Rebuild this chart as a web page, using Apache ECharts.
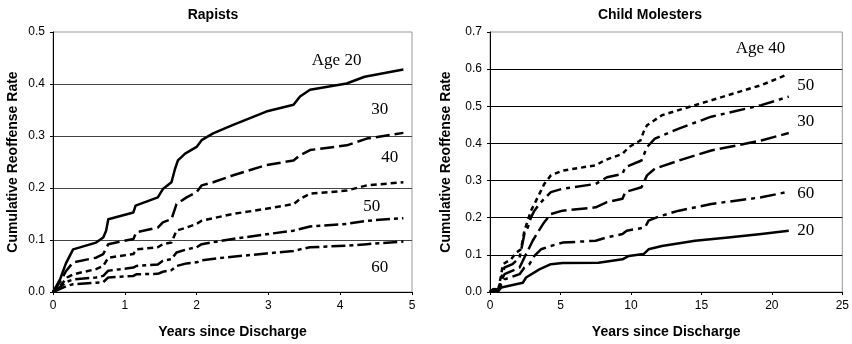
<!DOCTYPE html>
<html><head><meta charset="utf-8">
<script src="https://cdn.jsdelivr.net/npm/echarts@6/dist/echarts.min.js"></script>
<style>html,body{margin:0;padding:0;background:#fff}#c{width:852px;height:344px}</style>
</head><body><div id="c"></div>
<script>
// ---------- Data: Rapists (years, cumulative rate) ----------
const rapAge20 = [[0,0],[0.1,0.025],[0.18,0.055],[0.28,0.082],[0.6,0.095],[0.7,0.105],[0.74,0.118],[0.77,0.14],[1.12,0.153],[1.15,0.166],[1.46,0.182],[1.53,0.198],[1.65,0.211],[1.7,0.237],[1.74,0.253],[1.84,0.266],[2.0,0.279],[2.07,0.292],[2.23,0.305],[2.5,0.321],[2.97,0.347],[3.35,0.36],[3.44,0.376],[3.58,0.389],[4.09,0.401],[4.34,0.414],[4.88,0.428]];
const rapAge30 = [[0,0],[0.1,0.02],[0.18,0.04],[0.28,0.057],[0.6,0.066],[0.7,0.073],[0.77,0.092],[1.12,0.102],[1.16,0.115],[1.46,0.124],[1.53,0.134],[1.65,0.14],[1.72,0.169],[1.86,0.182],[2.0,0.192],[2.07,0.205],[2.23,0.211],[2.5,0.224],[2.97,0.244],[3.35,0.253],[3.44,0.263],[3.58,0.273],[4.09,0.282],[4.37,0.295],[4.88,0.306]];
const rapAge40 = [[0,0],[0.1,0.012],[0.2,0.028],[0.28,0.034],[0.6,0.044],[0.7,0.05],[0.77,0.066],[1.12,0.073],[1.16,0.082],[1.46,0.086],[1.53,0.092],[1.65,0.095],[1.72,0.118],[1.86,0.124],[2.0,0.131],[2.07,0.137],[2.5,0.15],[2.97,0.16],[3.35,0.169],[3.44,0.179],[3.58,0.189],[4.09,0.195],[4.37,0.205],[4.88,0.211]];
const rapAge50 = [[0,0],[0.1,0.01],[0.2,0.02],[0.28,0.024],[0.6,0.028],[0.7,0.031],[0.77,0.041],[1.12,0.047],[1.16,0.05],[1.46,0.053],[1.53,0.06],[1.65,0.063],[1.72,0.076],[1.86,0.082],[2.0,0.086],[2.07,0.092],[2.5,0.102],[2.97,0.111],[3.35,0.118],[3.44,0.121],[3.58,0.126],[4.09,0.131],[4.37,0.137],[4.88,0.142]];
const rapAge60 = [[0,0],[0.1,0.006],[0.2,0.012],[0.28,0.015],[0.6,0.018],[0.7,0.019],[0.77,0.028],[1.12,0.031],[1.16,0.034],[1.46,0.035],[1.53,0.039],[1.65,0.042],[1.72,0.05],[1.86,0.055],[2.0,0.057],[2.07,0.061],[2.5,0.068],[2.97,0.074],[3.35,0.079],[3.44,0.082],[3.58,0.086],[4.09,0.089],[4.37,0.092],[4.88,0.097]];

// ---------- Data: Child Molesters ----------
const cmAge40 = [[0,0],[0.3,0.01],[0.6,0.008],[0.8,0.048],[0.92,0.075],[1.5,0.088],[1.86,0.106],[2.2,0.115],[2.44,0.165],[2.68,0.192],[2.91,0.219],[3.27,0.246],[3.62,0.273],[3.85,0.291],[4.32,0.314],[5.15,0.327],[7.5,0.341],[8.1,0.354],[9.4,0.372],[9.85,0.39],[10.67,0.408],[10.9,0.431],[11.14,0.449],[12.2,0.476],[14.55,0.503],[16.9,0.53],[19.25,0.557],[21.0,0.584]];
const cmAge50 = [[0,0],[0.3,0.008],[0.6,0.006],[0.8,0.039],[1.03,0.066],[1.6,0.075],[2.1,0.093],[2.44,0.156],[2.68,0.174],[2.91,0.201],[3.15,0.219],[3.5,0.237],[3.85,0.251],[4.32,0.269],[5.15,0.278],[7.5,0.291],[8.3,0.309],[9.4,0.318],[9.6,0.336],[10.75,0.354],[11.14,0.39],[11.7,0.413],[13.4,0.44],[15.7,0.472],[19.25,0.503],[21.2,0.526]];
const cmAge30 = [[0,0],[0.3,0.006],[0.6,0.005],[0.8,0.03],[1.03,0.048],[2.1,0.066],[2.44,0.093],[2.68,0.111],[3.03,0.138],[3.38,0.16],[3.85,0.188],[4.32,0.21],[5.15,0.219],[7.5,0.228],[8.3,0.242],[9.4,0.251],[9.6,0.269],[10.75,0.282],[11.14,0.314],[11.7,0.332],[13.4,0.354],[15.7,0.381],[19.25,0.408],[21.2,0.428]];
const cmAge60 = [[0,0],[0.3,0.005],[0.6,0.004],[0.8,0.021],[1.03,0.034],[2.1,0.048],[2.44,0.066],[2.8,0.075],[3.15,0.097],[3.62,0.115],[4.32,0.124],[5.15,0.133],[7.5,0.138],[8.3,0.147],[9.4,0.156],[9.7,0.165],[11.0,0.174],[11.25,0.192],[11.96,0.203],[13.4,0.219],[15.7,0.237],[19.25,0.255],[21.2,0.27]];
const cmAge20 = [[0,0],[0.3,0.004],[0.6,0.003],[0.8,0.012],[2.33,0.025],[2.56,0.039],[3.5,0.061],[4.32,0.075],[5.15,0.078],[7.7,0.079],[9.4,0.088],[9.85,0.097],[10.9,0.102],[11.25,0.115],[12.2,0.124],[14.55,0.138],[16.9,0.147],[19.25,0.156],[21.2,0.165]];

// ---------- Labels (text, x, y in data units) ----------
const rapLabels = [["Age 20",3.95,0.445],["30",4.55,0.35],["40",4.69,0.259],["50",4.44,0.165],["60",4.55,0.048]];
const cmLabels = [["Age 40",19.2,0.655],["50",22.4,0.555],["30",22.4,0.458],["60",22.4,0.264],["20",22.4,0.165]];

const titles = ["Rapists","Child Molesters"];
const xName = "Years since Discharge";
const yName = "Cumulative Reoffense Rate";

const SANS = "'Liberation Sans', Arial, sans-serif";
const SERIF = "'Liberation Serif', 'Times New Roman', serif";

function lineSeries(data, gi, dash) {
  return {
    type: 'line', xAxisIndex: gi, yAxisIndex: gi, data: data,
    showSymbol: false, symbol: 'none', animation: false, silent: true,
    lineStyle: {color: '#000', width: 2.5, type: dash || 'solid', cap: 'butt', join: 'round'}
  };
}
function labelSeries(labels, gi) {
  return {
    type: 'scatter', xAxisIndex: gi, yAxisIndex: gi, symbolSize: 0, silent: true, animation: false,
    itemStyle: {opacity: 1, color: '#000'},
    data: labels.map(l => ({value: [l[1], l[2]], name: l[0]})),
    label: {show: true, position: 'inside', formatter: p => p.name, opacity: 1,
      fontFamily: SERIF, fontSize: 17, color: '#000'}
  };
}
function xAxis(gi, max, interval) {
  return {
    type: 'value', gridIndex: gi, min: 0, max: max, interval: interval,
    name: xName, nameLocation: 'middle', nameGap: 33,
    nameTextStyle: {fontFamily: SANS, fontWeight: 'bold', fontSize: 14, color: '#000'},
    axisLine: {show: true, lineStyle: {color: '#000', width: 1}},
    axisTick: {show: true, length: 3, lineStyle: {color: '#000'}},
    axisLabel: {fontFamily: SANS, fontSize: 12, color: '#000', margin: 8},
    splitLine: {show: false}
  };
}
function yAxis(gi, max, gap, gridColor) {
  return {
    type: 'value', gridIndex: gi, min: 0, max: max, interval: 0.1,
    name: yName, nameLocation: 'middle', nameGap: gap, nameRotate: 90,
    nameTextStyle: {fontFamily: SANS, fontWeight: 'bold', fontSize: 14, color: '#000'},
    axisLine: {show: true, lineStyle: {color: '#000', width: 1}},
    axisTick: {show: true, length: 3, lineStyle: {color: '#000'}},
    axisLabel: {fontFamily: SANS, fontSize: 12, color: '#000', margin: 8, formatter: v => v.toFixed(1)},
    splitLine: {show: true, showMinLine: false, showMaxLine: false, lineStyle: {color: gridColor, width: 1}}
  };
}

const chart = echarts.init(document.getElementById('c'), null, {renderer: 'canvas'});
chart.setOption({
  backgroundColor: '#fff',
  animation: false,
  title: [
    {text: titles[0], left: 208, top: 3, textAlign: 'center', textStyle: {fontFamily: SANS, fontWeight: 'bold', fontSize: 14, color: '#000'}},
    {text: titles[1], left: 645, top: 3, textAlign: 'center', textStyle: {fontFamily: SANS, fontWeight: 'bold', fontSize: 14, color: '#000'}}
  ],
  grid: [
    {left: 53, right: 440, top: 32, bottom: 52, show: true, borderColor: '#999', borderWidth: 1, backgroundColor: 'transparent'},
    {left: 490, right: 7, top: 32, bottom: 52, show: true, borderColor: '#999', borderWidth: 1, backgroundColor: 'transparent'}
  ],
  xAxis: [xAxis(0, 5, 1), xAxis(1, 25, 5)],
  yAxis: [yAxis(0, 0.5, 33, '#444'), yAxis(1, 0.7, 37, '#000')],
  series: [
    lineSeries(rapAge20, 0, 'solid'),
    lineSeries(rapAge30, 0, [14, 5]),
    lineSeries(rapAge40, 0, [6, 4]),
    lineSeries(rapAge50, 0, [14, 4, 4, 4]),
    lineSeries(rapAge60, 0, [14, 4, 4, 4]),
    labelSeries(rapLabels, 0),
    lineSeries(cmAge40, 1, [5, 4]),
    lineSeries(cmAge50, 1, [16, 5, 4, 5]),
    lineSeries(cmAge30, 1, [16, 5]),
    lineSeries(cmAge60, 1, [16, 5, 4, 5]),
    lineSeries(cmAge20, 1, 'solid'),
    labelSeries(cmLabels, 1)
  ]
});
</script></body></html>
